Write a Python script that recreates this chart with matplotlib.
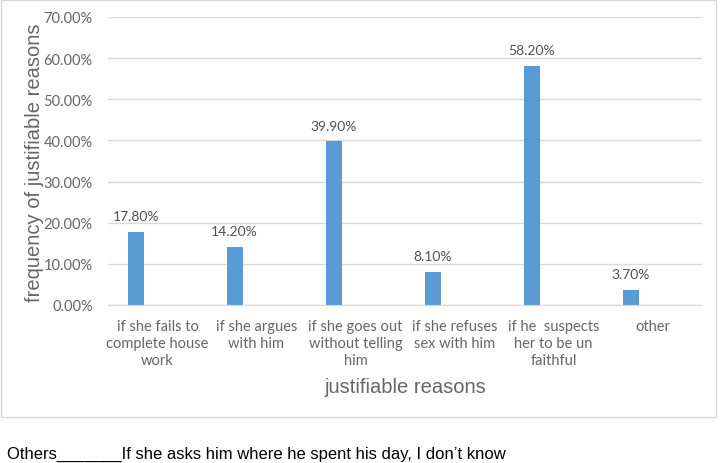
import matplotlib
matplotlib.use("Agg")
import matplotlib.pyplot as plt
from matplotlib.patches import Rectangle
import numpy as np

categories = ["if she fails to\ncomplete house\nwork", "if she argues\nwith him",
              "if she goes out\nwithout telling\nhim", "if she refuses\nsex with him",
              "if he  suspects\nher to be un\nfaithful", "other"]
values = [17.8, 14.2, 39.9, 8.1, 58.2, 3.7]
yticks = [0, 10, 20, 30, 40, 50, 60, 70]
ytick_labels = ["0.00%", "10.00%", "20.00%", "30.00%", "40.00%", "50.00%", "60.00%", "70.00%"]
value_labels = ["17.80%", "14.20%", "39.90%", "8.10%", "58.20%", "3.70%"]

W, H = 721, 464
fig = plt.figure(figsize=(W / 100, H / 100), dpi=100)
ax = fig.add_axes([108 / W, 1 - 306 / H, (702 - 108) / W, (306 - 18) / H])

x = np.arange(len(categories))
offset = -0.22
width = 0.165
ax.bar(x + offset, values, width=width, color="#5b9bd5", zorder=3)

for xi, v, lab in zip(x, values, value_labels):
    ax.annotate(lab, (xi + offset, v), xytext=(0, 11), textcoords="offset points",
                ha="center", va="center", fontsize=10, color="#505050", family="Lato")

ax.set_xlim(-0.5, len(categories) - 0.5)
ax.set_ylim(0, 70)
ax.set_yticks(yticks)
ax.set_yticklabels(ytick_labels, fontsize=10.5, color="#666666", family="Lato")
ax.set_xticks(x)
ax.set_xticklabels(categories, fontsize=10.5, color="#666666", family="Lato", linespacing=1.3,
                   va="top")
ax.tick_params(axis="both", length=0)
ax.tick_params(axis="y", pad=11)
ax.tick_params(axis="x", pad=10)
ax.yaxis.grid(True, color="#d9d9d9", linewidth=1, zorder=0)
for s in ["top", "right", "left"]:
    ax.spines[s].set_visible(False)
ax.spines["bottom"].set_color("#d9d9d9")
ax.spines["bottom"].set_zorder(4)

fig.text(405 / W, 1 - 388 / H, "justifiable reasons", ha="center", va="center",
         fontsize=14.5, color="#666666", family="Liberation Sans")
fig.text(35 / W, 1 - 163 / H, "frequency of justifiable reasons", ha="center", va="center",
         rotation=90, fontsize=14.5, color="#666666", family="Liberation Sans")

fig.patches.append(Rectangle((1 / W, 1 - 418 / H), 715 / W, 417 / H, transform=fig.transFigure,
                             fill=False, edgecolor="#d9d9d9", linewidth=1))

fig.text(7 / W, 1 - 454 / H, "Others_______If she asks him where he spent his day, I don\u2019t know",
         ha="left", va="center", fontsize=12, color="black", family="Liberation Sans")

fig.savefig("out.png", dpi=100)
